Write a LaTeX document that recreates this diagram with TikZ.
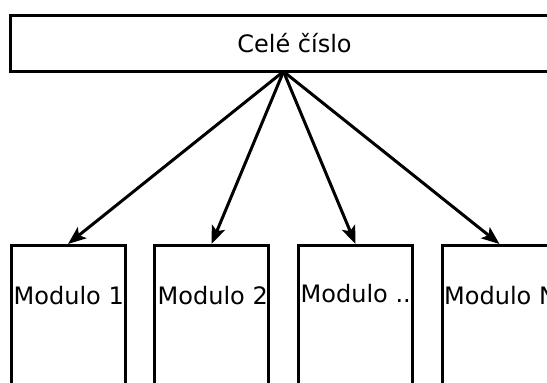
\documentclass[tikz,border=0pt]{standalone}
\usepackage{fontspec}
\setmainfont{DejaVu Sans}
\usetikzlibrary{arrows.meta}
\begin{document}
\begin{tikzpicture}[x=1pt,y=-1pt,
  box/.style={draw=black, line width=3pt, fill=white, inner sep=0pt},
  modbox/.style={box, minimum width=114pt, minimum height=160pt, anchor=north},
  txt/.style={font=\fontsize{24}{29}\selectfont, inner sep=0pt},
  link/.style={line width=3pt, -{Stealth[length=18pt,width=14pt,inset=4pt]}}]
  \useasboundingbox (0,0) rectangle (547,383);
  % whole number
  \node[box, minimum width=569pt, minimum height=56pt] (top) at (294.5,43.5) {};
  \node[txt, anchor=base] (ttop) at (294.5,52) {Celé číslo};
  \coordinate (hub) at (283.5,71.5);
  % modules
  \node[modbox] (m1) at (68,244) {};
  \node[modbox] (m2) at (211.5,244) {};
  \node[modbox] (m3) at (355.5,244) {};
  \node[modbox] (m4) at (499.5,244) {};
  \node[txt, anchor=base west] (t1) at (13.5,304) {Modulo 1};
  \node[txt, anchor=base west] (t2) at (157.5,304) {Modulo 2};
  \node[txt, anchor=base west] (t3) at (300.5,302) {Modulo ..};
  \node[txt, anchor=base west] (t4) at (444,304) {Modulo N};
  % arrows
  \foreach \m in {m1,m2,m3,m4} \draw[link] (hub) -- (\m.north);
\end{tikzpicture}
\end{document}
